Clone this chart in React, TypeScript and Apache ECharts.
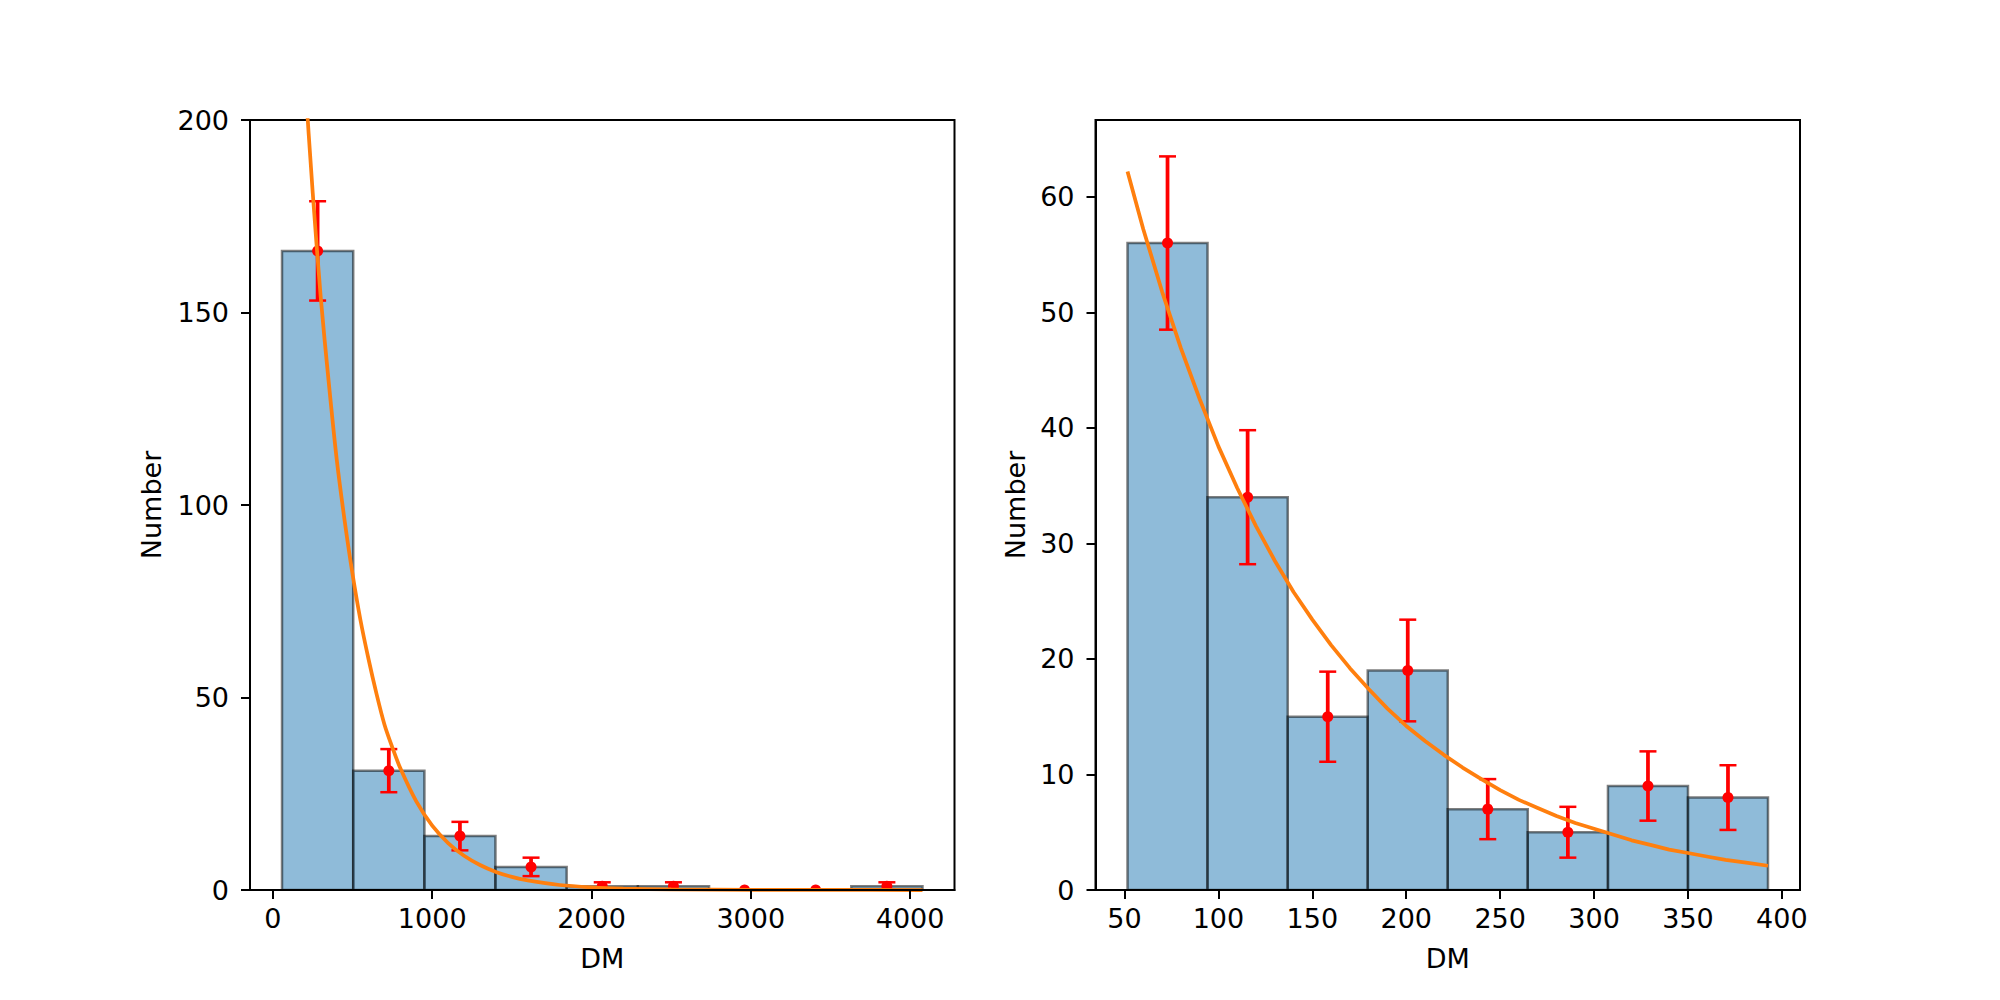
import React, { useEffect, useRef } from "react";
import * as echarts from "echarts";

// ---- data ----
const leftBinEdges = [57, 504, 951, 1397, 1844, 2291, 2738, 3184, 3631, 4078];
const leftCounts = [166, 31, 14, 6, 1, 1, 0, 0, 1];
const leftErrors = [12.9, 5.6, 3.7, 2.4, 1, 1, 0, 0, 1];
const leftFitX = [57, 100, 150, 200, 250, 300, 350, 400, 450, 500, 550, 600, 650, 700, 750, 800, 900, 1000, 1100, 1200, 1300, 1400, 1500, 1600, 1800, 2000, 2200, 2500, 3000, 3500, 4078];
const leftFitY = [334, 291, 249, 212, 181, 154, 132, 112, 96, 82, 70, 60, 51, 43, 37, 31.6, 23, 16.7, 12.2, 8.9, 6.5, 4.7, 3.4, 2.5, 1.3, 0.7, 0.37, 0.14, 0.03, 0.01, 0];
const leftXTicks = [0, 1000, 2000, 3000, 4000];
const leftYTicks = [0, 50, 100, 150, 200];

const rightBinEdges = [51.6, 94.2, 136.9, 179.5, 222.1, 264.7, 307.4, 350.0, 392.6];
const rightCounts = [56, 34, 15, 19, 7, 5, 9, 8];
const rightErrors = [7.5, 5.8, 3.9, 4.4, 2.6, 2.2, 3.0, 2.8];
const rightFitX = [51.6, 60, 70, 80, 90, 100, 110, 120, 130, 140, 150, 160, 170, 180, 190, 200, 210, 220, 230, 240, 250, 260, 270, 280, 290, 300, 310, 320, 330, 340, 350, 360, 370, 380, 392.6];
const rightFitY = [62.2, 57.2, 51.8, 46.9, 42.5, 38.4, 34.8, 31.5, 28.5, 25.8, 23.4, 21.2, 19.2, 17.4, 15.7, 14.2, 12.9, 11.7, 10.6, 9.6, 8.65, 7.8, 7.1, 6.4, 5.8, 5.3, 4.8, 4.3, 3.9, 3.5, 3.2, 2.9, 2.6, 2.4, 2.1];
const rightXTicks = [50, 100, 150, 200, 250, 300, 350, 400];
const rightYTicks = [0, 10, 20, 30, 40, 50, 60];

const FONT = "DejaVu Sans";
const FS = 27;

function histData(edges: number[], counts: number[]) {
  return counts.map((c, i) => [edges[i], edges[i + 1], c]);
}
function errData(edges: number[], counts: number[], errs: number[]) {
  return counts.map((c, i) => [(edges[i] + edges[i + 1]) / 2, c, errs[i]]);
}

const histRender = (params: any, api: any) => {
  const p0 = api.coord([api.value(0), api.value(2)]);
  const p1 = api.coord([api.value(1), 0]);
  return {
    type: "rect",
    shape: { x: p0[0], y: p0[1], width: p1[0] - p0[0], height: p1[1] - p0[1] },
    style: { fill: "rgba(31,119,180,0.5)", stroke: "rgba(0,0,0,0.5)", lineWidth: 2.5 },
  };
};

const errRender = (params: any, api: any) => {
  const x = api.value(0);
  const y = api.value(1);
  const e = api.value(2);
  const c = api.coord([x, y]);
  const lo = api.coord([x, y - e]);
  const hi = api.coord([x, y + e]);
  const hw = 8.5;
  return {
    type: "group",
    children: [
      { type: "line", shape: { x1: c[0], y1: lo[1], x2: c[0], y2: hi[1] }, style: { stroke: "#ff0000", lineWidth: 3.75 } },
      { type: "line", shape: { x1: c[0] - hw, y1: lo[1], x2: c[0] + hw, y2: lo[1] }, style: { stroke: "#ff0000", lineWidth: 2.5 } },
      { type: "line", shape: { x1: c[0] - hw, y1: hi[1], x2: c[0] + hw, y2: hi[1] }, style: { stroke: "#ff0000", lineWidth: 2.5 } },
      { type: "circle", shape: { cx: c[0], cy: c[1], r: 5.5 }, style: { fill: "#ff0000" } },
    ],
  };
};

function xAxisCfg(gridIndex: number, min: number, max: number, ticks: number[]) {
  return {
    type: "value",
    gridIndex,
    min,
    max,
    z: 10,
    name: "DM",
    nameLocation: "middle",
    nameGap: 55,
    nameTextStyle: { fontFamily: FONT, fontSize: FS, color: "#000" },
    axisLine: { show: true, onZero: false, lineStyle: { color: "#000", width: 2 } },
    axisTick: { show: true, length: 9, lineStyle: { color: "#000", width: 2 }, customValues: ticks },
    axisLabel: { fontFamily: FONT, fontSize: FS, color: "#000", margin: 15, customValues: ticks, formatter: (v: number) => String(v) },
    splitLine: { show: false },
  };
}
function yAxisCfg(gridIndex: number, min: number, max: number, ticks: number[], nameGap: number) {
  return {
    type: "value",
    gridIndex,
    min,
    max,
    z: 10,
    name: "Number",
    nameLocation: "middle",
    nameGap,
    nameTextStyle: { fontFamily: FONT, fontSize: FS, color: "#000" },
    axisLine: { show: true, onZero: false, lineStyle: { color: "#000", width: 2 } },
    axisTick: { show: true, length: 9, lineStyle: { color: "#000", width: 2 }, customValues: ticks },
    axisLabel: { fontFamily: FONT, fontSize: FS, color: "#000", margin: 21, customValues: ticks, formatter: (v: number) => String(v) },
    splitLine: { show: false },
  };
}

export default function App() {
  const ref = useRef<HTMLDivElement>(null);
  useEffect(() => {
    document.body.style.margin = "0";
    const chart = echarts.init(ref.current!, null, { renderer: "svg" });
    const gridBase = { top: 120, height: 770, width: 704.5, show: true, borderColor: "#000", borderWidth: 2, backgroundColor: "transparent", containLabel: false };
    chart.setOption({
      animation: false,
      backgroundColor: "#ffffff",
      grid: [
        { ...gridBase, left: 250 },
        { ...gridBase, left: 1095.5 },
      ],
      xAxis: [
        xAxisCfg(0, -144, 4279, leftXTicks),
        xAxisCfg(1, 34.55, 409.65, rightXTicks),
      ],
      yAxis: [
        yAxisCfg(0, 0, 200, leftYTicks, 85),
        yAxisCfg(1, 0, 66.65, rightYTicks, 67),
      ],
      series: [
        { type: "custom", xAxisIndex: 0, yAxisIndex: 0, renderItem: histRender, data: histData(leftBinEdges, leftCounts), encode: { x: [0, 1], y: 2 }, clip: true, z: 2 },
        { type: "custom", xAxisIndex: 0, yAxisIndex: 0, renderItem: errRender, data: errData(leftBinEdges, leftCounts, leftErrors), encode: { x: 0, y: 1 }, clip: true, z: 3 },
        { type: "line", xAxisIndex: 0, yAxisIndex: 0, data: leftFitX.map((x, i) => [x, leftFitY[i]]), showSymbol: false, symbol: "none", smooth: 0.3, lineStyle: { color: "#ff7f0e", width: 3.75 }, clip: true, z: 4 },
        { type: "custom", xAxisIndex: 1, yAxisIndex: 1, renderItem: histRender, data: histData(rightBinEdges, rightCounts), encode: { x: [0, 1], y: 2 }, clip: true, z: 2 },
        { type: "custom", xAxisIndex: 1, yAxisIndex: 1, renderItem: errRender, data: errData(rightBinEdges, rightCounts, rightErrors), encode: { x: 0, y: 1 }, clip: true, z: 3 },
        { type: "line", xAxisIndex: 1, yAxisIndex: 1, data: rightFitX.map((x, i) => [x, rightFitY[i]]), showSymbol: false, symbol: "none", lineStyle: { color: "#ff7f0e", width: 3.75 }, clip: true, z: 4 },
      ],
    });
    return () => chart.dispose();
  }, []);
  return <div ref={ref} style={{ width: 2000, height: 1000 }} />;
}
